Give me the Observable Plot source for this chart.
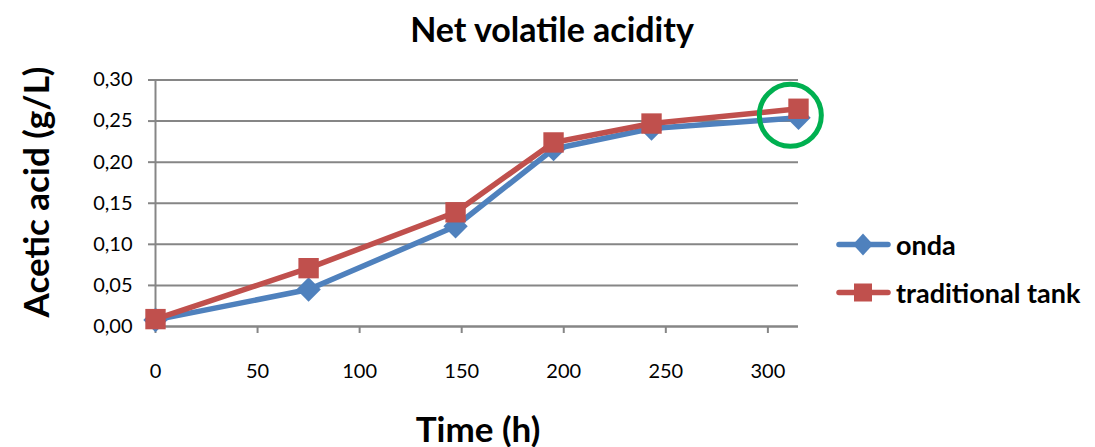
<!DOCTYPE html>
<html><head><meta charset="utf-8">
<script src="https://cdn.jsdelivr.net/npm/d3@7"></script>
<script src="https://cdn.jsdelivr.net/npm/@observablehq/plot@0.6"></script>
<style>
body{margin:0;background:#fff;font-family:Lato,"Open Sans",sans-serif;}
#wrap{position:relative;width:1095px;height:447px;}
#title{position:absolute;left:552px;top:28px;transform:translate(-50%,-50%);font-weight:bold;font-size:34px;color:#000;white-space:nowrap;}
#chart{position:absolute;left:0;top:50px;}
.ylab{position:absolute;left:35px;top:192px;transform:translate(-50%,-50%) rotate(-90deg);font-weight:bold;font-size:35px;white-space:nowrap;}
.xlab{position:absolute;left:478px;top:428px;transform:translate(-50%,-50%);font-weight:bold;font-size:35px;white-space:nowrap;}
.leg{position:absolute;left:836px;font-weight:bold;font-size:27px;display:flex;align-items:center;white-space:nowrap;transform:translateY(-50%);}
.leg svg{margin-right:4px;}
</style></head>
<body><div id="wrap">
<div id="title">Net volatile acidity</div>
<div id="chart"></div>
<div class="ylab">Acetic acid (g/L)</div>
<div class="xlab">Time (h)</div>
<div class="leg" id="leg1" style="top:244px"></div>
<div class="leg" id="leg2" style="top:292px"></div>
</div>
<script>
const time = [0, 75, 147, 195, 243, 315];
const onda = [0.008, 0.045, 0.122, 0.216, 0.241, 0.254];
const traditional = [0.009, 0.071, 0.139, 0.224, 0.247, 0.265];
const seriesNames = ["onda", "traditional tank"];
const seriesColors = ["#4F81BD", "#C0504D"];
const xTicks = [0, 50, 100, 150, 200, 250, 300];
const yTicks = [0, 0.05, 0.10, 0.15, 0.20, 0.25, 0.30];
const highlight = [{x: 311, y: 0.257}];

const rows = [];
time.forEach((t, i) => {
  rows.push({t, v: onda[i], s: seriesNames[0]});
});
time.forEach((t, i) => {
  rows.push({t, v: traditional[i], s: seriesNames[1]});
});
const ondaRows = rows.filter(d => d.s === seriesNames[0]);
const tradRows = rows.filter(d => d.s === seriesNames[1]);
const grid = "#868686";
const fmt = d => d.toFixed(2).replace(".", ",");

const chart = Plot.plot({
  width: 1095, height: 397,
  marginTop: 29.5, marginBottom: 121, marginLeft: 155, marginRight: 297,
  style: {fontFamily: "Lato, 'Open Sans', sans-serif", fontSize: "20px", color: "#000", overflow: "visible"},
  x: {domain: [0, 315], label: null},
  y: {domain: [0, 0.30], label: null},
  marks: [
    Plot.gridY(yTicks, {stroke: grid, strokeOpacity: 1, strokeWidth: 2}),
    Plot.axisY(yTicks, {tickSize: 7, tickPadding: 16, tickFormat: fmt, stroke: grid, strokeWidth: 2, label: null, fontSize: 20}),
    Plot.axisX(xTicks, {tickSize: 7, tickPadding: 30, stroke: grid, strokeWidth: 2, label: null, fontSize: 20}),
    Plot.ruleX([0], {stroke: grid, strokeWidth: 2}),
    Plot.ruleY([0], {stroke: grid, strokeWidth: 2}),
    Plot.line(ondaRows, {x: "t", y: "v", stroke: seriesColors[0], strokeWidth: 5.5}),
    Plot.dot(ondaRows, {x: "t", y: "v", symbol: "diamond2", r: 11, fill: seriesColors[0], stroke: "none"}),
    Plot.line(tradRows, {x: "t", y: "v", stroke: seriesColors[1], strokeWidth: 5.5}),
    Plot.dot(tradRows, {x: "t", y: "v", symbol: "square", r: 11.5, fill: seriesColors[1], stroke: "none"}),
    Plot.dot(highlight, {x: "x", y: "y", r: 31, stroke: "#00B050", strokeWidth: 5, fill: "none"})
  ]
});
document.getElementById("chart").appendChild(chart);

function swatch(color, sym) {
  const m = sym === "square"
    ? `<rect x="18" y="6" width="18" height="18" fill="${color}"/>`
    : `<path d="M27,4 L37,15 L27,26 L17,15 Z" fill="${color}"/>`;
  return `<svg width="56" height="30"><line x1="3" y1="15" x2="52" y2="15" stroke="${color}" stroke-width="5.5" stroke-linecap="round"/>${m}</svg>`;
}
document.getElementById("leg1").innerHTML = swatch(seriesColors[0], "diamond") + "<span>" + seriesNames[0] + "</span>";
document.getElementById("leg2").innerHTML = swatch(seriesColors[1], "square") + "<span>" + seriesNames[1] + "</span>";
</script>
</body></html>
